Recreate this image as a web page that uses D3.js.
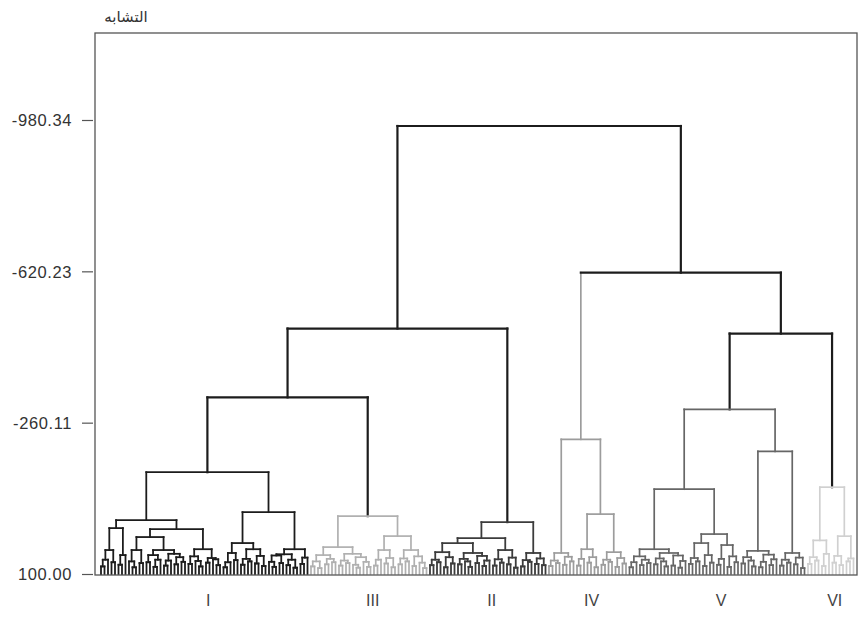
<!DOCTYPE html>
<html>
<head>
<meta charset="utf-8">
<script src="https://cdn.jsdelivr.net/npm/d3@7"></script>
<style>
  html, body { margin: 0; padding: 0; background: #fff; }
  svg { display: block; }
</style>
</head>
<body>
<svg id="chart" width="860" height="617"></svg>
<script>
// Similarity axis ticks (bottom = 100.00, values fall going up)
const yTicks = [100.00, -260.11, -620.23, -980.34];
const yTitle = "التشابه";

// Cluster names, left to right
const clusterNames = ["I", "III", "II", "IV", "V", "VI"];

// Each node is [mergeLevel, left, right]; 0 is a single object (leaf)
const clusterI = [-142.2,
  [-28.2,
    [-9.2,
      [43, [66, [82, 0, 0], 0], [72, 0, 0]],
      [55, [78, 0, 0], 0]],
    [-6.8,
      [12.1,
        [43, [70, 0, [84, 0, 0]], [74, 0, 0]],
        [43, [55, [72, 0, 0], [66, [83, 0, 0], 0]], [52, [68, [80, 0, 0], 0], [60, [77, 0, 0], [71, 0, 0]]]]],
      [41, [58, [76, 0, 0], [69, 0, [82, 0, 0]]], [62, [73, 0, 0], [65, 0, [79, 0, 0]]]]]],
  [-47.2,
    [26.4,
      [50, [72, [84, 0, 0], 0], [67, 0, 0]],
      [41, [64, [78, 0, 0], [70, 0, 0]], [57, [75, 0, 0], [81, 0, 0]]]],
    [41,
      [53, [56, [71, 0, [83, 0, 0]], [74, 0, 0]], [66, [79, 0, 0], [85, 0, 0]]],
      [61, [76, 0, 0], 0]]]];

const clusterIII = [-37.7,
  [36,
    [55, [70, [82, 0, 0], [86, 0, 0]], [64, [77, 0, 0], [72, 0, 0]]],
    [52, [68, [80, 0, 0], [74, 0, 0]], [60, [78, 0, [85, 0, 0]], [71, 0, [83, 0, 0]]]]],
  [9.8,
    [43, [66, [80, 0, 0], 0], [62, [75, 0, 0], [84, 0, 0]]],
    [43, [63, [77, 0, 0], [70, 0, 0]], [58, [81, 0, 0], [73, 0, [86, 0, 0]]]]]];

const clusterII = [-23.5,
  [14.5,
    [26.4,
      [48, [66, [79, 0, 0], [72, 0, 0]], [60, [84, 0, 0], [75, 0, 0]]],
      [50, [64, [77, 0, 0], [70, 0, [83, 0, 0]]], [57, [74, 0, 0], [68, [81, 0, 0], 0]]]],
    [43, [65, [80, 0, 0], [73, 0, 0]], [61, [77, 0, 0], [85, 0, 0]]]],
  [50, [67, [82, 0, 0], [71, 0, 0]], [63, [76, 0, 0], [79, 0, 0]]]];

const clusterIV = [-220.5,
  [50, [68, [81, 0, 0], [74, 0, 0]], [59, [78, 0, 0], [70, 0, 0]]],
  [-42.5,
    [41, [64, [80, 0, 0], 0], [60, [73, 0, 0], [84, 0, 0]]],
    [48, [66, [78, 0, 0], [71, 0, 0]], [62, [83, 0, 0], [75, 0, 0]]]]];

const clusterV = [-291.8,
  [-101.8,
    [41,
      [58, [72, [84, 0, 0], 0], [66, [79, 0, 0], [74, 0, 0]]],
      [50, [63, [77, 0, 0], [70, 0, [82, 0, 0]]], [56, [80, 0, 0], [69, [85, 0, 0], 0]]]],
    [5,
      [26.4, [62, [76, 0, 0], [70, 0, 0]], [55, [81, 0, 0], [73, 0, 0]]],
      [31.1, [64, [78, 0, 0], 0], [58, [83, 0, 0], [72, 0, 0]]]]],
  [-192.0,
    [45, [60, [75, 0, 0], [68, 0, [82, 0, 0]]], [54, [71, [84, 0, 0], 0], [65, [79, 0, 0], 0]]],
    [50, [66, [80, 0, 0], [73, 0, 0]], [61, [77, 0, 0], [86, 0, 0]]]]];

const clusterVI = [-106.6,
  [20, [60, [76, 0, 0], [68, 0, 0]], [52, [81, 0, 0], 0]],
  [10, [57, [73, 0, 0], [79, 0, 0]], [63, [70, 0, 0], 0]]];

// Merges above the clusters
const upperTree = [-966.1,
  [-484.1, [-320.3, "I", "III"], "II"],
  [-617.1, "IV", [-472.2, "V", "VI"]]];

const clusterTrees = { I: clusterI, III: clusterIII, II: clusterII, IV: clusterIV, V: clusterV, VI: clusterVI };

// Line colours per cluster; "stem" is the vertical rising from the cluster's root
const clusterStyle = {
  I:   { color: "#1c1c1c", stem: "#1c1c1c", width: 1.8 },
  III: { color: "#b0b0b0", stem: "#1c1c1c", width: 1.7 },
  II:  { color: "#3c3c3c", stem: "#1c1c1c", width: 1.8 },
  IV:  { color: "#9c9c9c", stem: "#9c9c9c", width: 1.7 },
  V:   { color: "#666666", stem: "#1c1c1c", width: 1.7 },
  VI:  { color: "#d0d0d0", stem: "#1c1c1c", width: 1.7 }
};
const upperColor = "#1c1c1c";
const upperWidth = 2.2;

// ---------- build hierarchy ----------
function toNode(item, cluster, isClusterRoot) {
  if (typeof item === "string") return toNode(clusterTrees[item], item, true);
  if (item === 0) return { level: yTicks[0], cluster, leaf: true };
  return {
    level: item[0],
    cluster,
    clusterRoot: !!isClusterRoot,
    children: [toNode(item[1], cluster, false), toNode(item[2], cluster, false)]
  };
}
const root = d3.hierarchy(toNode(upperTree, null, false));
const leaves = root.leaves();

const frame = { left: 95, right: 857, top: 33, bottom: 575 };

const x = d3.scaleLinear().domain([0, leaves.length - 1]).range([101, 853.5]);
const y = d3.scaleLinear().domain([100, -980.34]).range([574, 120]);

leaves.forEach((d, i) => { d.x = x(i); });
root.eachAfter(d => {
  if (d.children) d.x = (d.children[0].x + d.children[1].x) / 2;
});

function nodeColor(d) {
  return d.data.cluster ? clusterStyle[d.data.cluster].color : upperColor;
}
function nodeWidth(d) {
  return d.data.cluster ? clusterStyle[d.data.cluster].width : upperWidth;
}
function stemColor(d) {
  if (!d.data.cluster) return upperColor;
  return d.data.clusterRoot ? clusterStyle[d.data.cluster].stem : clusterStyle[d.data.cluster].color;
}
function stemWidth(d) {
  if (!d.data.cluster) return upperWidth;
  return d.data.clusterRoot && clusterStyle[d.data.cluster].stem === upperColor ? upperWidth : clusterStyle[d.data.cluster].width;
}

const svg = d3.select("#chart");
const g = svg.append("g");

// Draw light clusters first so darker lines sit on top
const order = { VI: 0, III: 1, IV: 2, V: 3, II: 4, I: 5 };
const internal = root.descendants().filter(d => d.children);
const nonRoot = root.descendants().filter(d => d.parent);
const rank = d => d.data.cluster ? order[d.data.cluster] : 9;

// vertical stems: from each node up to its parent's merge level
g.append("g").selectAll("line")
  .data(nonRoot.sort((a, b) => rank(a) - rank(b)))
  .join("line")
  .attr("x1", d => d.x).attr("x2", d => d.x)
  .attr("y1", d => y(d.data.level))
  .attr("y2", d => y(d.parent.data.level))
  .attr("stroke", stemColor)
  .attr("stroke-width", stemWidth)
  .attr("stroke-linecap", "square");

// horizontal merge bars
g.append("g").selectAll("line")
  .data(internal.sort((a, b) => rank(a) - rank(b)))
  .join("line")
  .attr("x1", d => d.children[0].x).attr("x2", d => d.children[1].x)
  .attr("y1", d => y(d.data.level)).attr("y2", d => y(d.data.level))
  .attr("stroke", nodeColor)
  .attr("stroke-width", nodeWidth)
  .attr("stroke-linecap", "square");

// ---------- frame and axes ----------
svg.append("rect")
  .attr("x", frame.left).attr("y", frame.top)
  .attr("width", frame.right - frame.left)
  .attr("height", frame.bottom - frame.top)
  .attr("fill", "none").attr("stroke", "#555").attr("stroke-width", 1.3);

// plain hyphen for negatives
const fmt = v => d3.format(".2f")(v).replace("\u2212", "-");

const yAxis = svg.append("g")
  .attr("transform", `translate(${frame.left},0)`)
  .call(d3.axisLeft(y).tickValues(yTicks).tickFormat(fmt).tickSize(12).tickPadding(11));
yAxis.select(".domain").remove();
yAxis.attr("font-size", null).attr("font-family", null);
yAxis.selectAll(".tick line").attr("stroke", "#555").attr("stroke-width", 1.2).attr("x2", -2).attr("x1", -13);
yAxis.selectAll(".tick text")
  .attr("fill", "#333")
  .attr("dy", "0.36em")
  .style("font-family", "'Liberation Sans', Arial, sans-serif")
  .style("font-size", "16.5px")
  .style("letter-spacing", "0.6px");

svg.append("text")
  .attr("x", 126).attr("y", 22)
  .attr("text-anchor", "middle")
  .attr("fill", "#333")
  .style("font-family", "'Noto Sans', 'DejaVu Sans', sans-serif")
  .style("font-size", "15px")
  .text(yTitle);

// cluster labels centred under each cluster's span of leaves
const spans = clusterNames.map(name => {
  const xs = leaves.filter(d => d.data.cluster === name).map(d => d.x);
  return { name, cx: (d3.min(xs) + d3.max(xs)) / 2 };
});
svg.append("g").selectAll("text")
  .data(spans)
  .join("text")
  .attr("x", d => d.cx + 4)
  .attr("y", 606)
  .attr("text-anchor", "middle")
  .attr("fill", "#444")
  .style("font-family", "'Liberation Sans', Arial, sans-serif")
  .style("font-size", "16px")
  .text(d => d.name);
</script>
</body>
</html>
